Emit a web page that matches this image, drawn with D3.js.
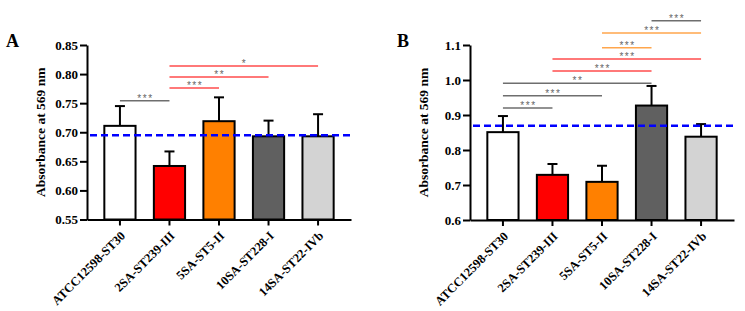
<!DOCTYPE html>
<html>
<head>
<meta charset="utf-8">
<script src="https://cdn.jsdelivr.net/npm/d3@7"></script>
<style>
	body { margin: 0; background: #fff; }
	svg { display: block; }
	svg text { font-family: "Liberation Serif", "Times New Roman", serif; }
	.axis path, .axis line { stroke: #000; stroke-width: 2; }
	.axis text { font-size: 13px; font-weight: bold; fill: #000; }
	.x.axis text { font-size: 12.5px; }
	svg text.stars { font-family: "Liberation Sans", "DejaVu Sans", sans-serif; font-size: 10px; fill: #666; letter-spacing: 1.5px; }
</style>
</head>
<body>
<div id="graphic"></div>
<script>
// strains on the x axis
const strains = ['ATCC12598-ST30', '2SA-ST239-III', '5SA-ST5-II', '10SA-ST228-I', '14SA-ST22-IVb'];

// panel A values
const absA = [0.711, 0.642, 0.719, 0.693, 0.693];
const errA = [0.745, 0.667, 0.760, 0.720, 0.731];
const refA = 0.695;
const ticksA = [0.55, 0.60, 0.65, 0.70, 0.75, 0.80, 0.85];
// comparisons: [from, to, bracket height, label, group]
const compA = [
	[0, 1, 0.754, '***', 'ref'],
	[1, 2, 0.776, '***', 'red'],
	[1, 3, 0.795, '**', 'red'],
	[1, 4, 0.814, '*', 'red']
];

// panel B values
const absB = [0.851, 0.729, 0.709, 0.927, 0.838];
const errB = [0.897, 0.760, 0.755, 0.983, 0.874];
const refB = 0.869;
const ticksB = [0.6, 0.7, 0.8, 0.9, 1.0, 1.1];
const compB = [
	[0, 1, 0.920, '***', 'ref'],
	[0, 2, 0.955, '***', 'ref'],
	[0, 3, 0.991, '**', 'ref'],
	[1, 3, 1.026, '***', 'red'],
	[1, 4, 1.060, '***', 'red'],
	[2, 3, 1.092, '***', 'orange'],
	[2, 4, 1.134, '***', 'orange'],
	[3, 4, 1.169, '***', 'ref']
];

const barColours = ['#ffffff', '#ff0000', '#ff8000', '#606060', '#d3d3d3'];
const compColours = { ref: '#6e6e6e', red: '#ff4d4d', orange: '#ffa64d' };

const svg = d3.select('#graphic')
	.append('svg')
	.attr('width', 745)
	.attr('height', 311);

function drawPanel({ letter, left, right, top, bottom, values, errors, ref, ticks, fmt, comps, letterX }) {

	const x = d3.scaleBand()
		.domain(strains)
		.range([left, right])
		.paddingInner(0.37)
		.paddingOuter(0.35);

	const y = d3.scaleLinear()
		.domain([ticks[0], ticks[ticks.length - 1]])
		.range([bottom, top]);

	const g = svg.append('g');

	// bars
	g.selectAll('rect.bar')
		.data(strains)
		.join('rect')
		.attr('class', 'bar')
		.attr('x', (d) => x(d))
		.attr('width', x.bandwidth())
		.attr('y', (d, i) => y(values[i]))
		.attr('height', (d, i) => y(ticks[0]) - y(values[i]))
		.attr('fill', (d, i) => barColours[i])
		.attr('stroke', '#000')
		.attr('stroke-width', 2);

	// upper error bars only
	const cx = (d) => x(d) + x.bandwidth() / 2;
	g.selectAll('line.err')
		.data(strains)
		.join('line')
		.attr('x1', cx).attr('x2', cx)
		.attr('y1', (d, i) => y(values[i]))
		.attr('y2', (d, i) => y(errors[i]))
		.attr('stroke', '#000')
		.attr('stroke-width', 2);

	g.selectAll('line.cap')
		.data(strains)
		.join('line')
		.attr('x1', (d) => cx(d) - 5).attr('x2', (d) => cx(d) + 5)
		.attr('y1', (d, i) => y(errors[i]))
		.attr('y2', (d, i) => y(errors[i]))
		.attr('stroke', '#000')
		.attr('stroke-width', 2);

	// reference dashed line
	g.append('line')
		.attr('x1', left + 3).attr('x2', right - 1)
		.attr('y1', y(ref)).attr('y2', y(ref))
		.attr('stroke', '#0000ff')
		.attr('stroke-width', 2.5)
		.attr('stroke-dasharray', '7,4');

	// axes
	g.append('g')
		.attr('class', 'y axis')
		.attr('transform', `translate(${left},0)`)
		.call(d3.axisLeft(y).tickValues(ticks).tickFormat(d3.format(fmt)).tickSize(7).tickSizeOuter(0).tickPadding(2));

	g.append('g')
		.attr('class', 'x axis')
		.attr('transform', `translate(0,${bottom})`)
		.call(d3.axisBottom(x).tickSize(6).tickSizeOuter(0))
		.selectAll('.tick text')
		.attr('text-anchor', 'end')
		.attr('dy', '0.35em')
		.attr('y', 0)
		.attr('transform', 'translate(3,14) rotate(-45)');

	// axis title
	g.append('text')
		.attr('transform', `translate(${left - 42},${(top + bottom) / 2}) rotate(-90)`)
		.attr('text-anchor', 'middle')
		.attr('font-size', 13.5)
		.attr('font-weight', 'bold')
		.text('Absorbance at 569 nm');

	// panel letter
	g.append('text')
		.attr('x', letterX)
		.attr('y', 47)
		.attr('font-size', 18)
		.attr('font-weight', 'bold')
		.text(letter);

	// significance brackets
	comps.forEach(([a, b, h, label, grp]) => {
		const x1 = cx(strains[a]);
		const x2 = cx(strains[b]);
		g.append('line')
			.attr('x1', x1).attr('x2', x2)
			.attr('y1', y(h)).attr('y2', y(h))
			.attr('stroke', compColours[grp])
			.attr('stroke-width', 1.5);
		g.append('text')
			.attr('class', 'stars')
			.attr('x', (x1 + x2) / 2 + 0.75)
			.attr('y', y(h) + 1)
			.attr('text-anchor', 'middle')
			.text(label);
	});
}

drawPanel({
	letter: 'A', letterX: 6, left: 87, right: 351, top: 45, bottom: 219.5,
	values: absA, errors: errA, ref: refA, ticks: ticksA, fmt: '.2f', comps: compA
});

drawPanel({
	letter: 'B', letterX: 397, left: 470, right: 734, top: 45, bottom: 220,
	values: absB, errors: errB, ref: refB, ticks: ticksB, fmt: '.1f', comps: compB
});
</script>
</body>
</html>
